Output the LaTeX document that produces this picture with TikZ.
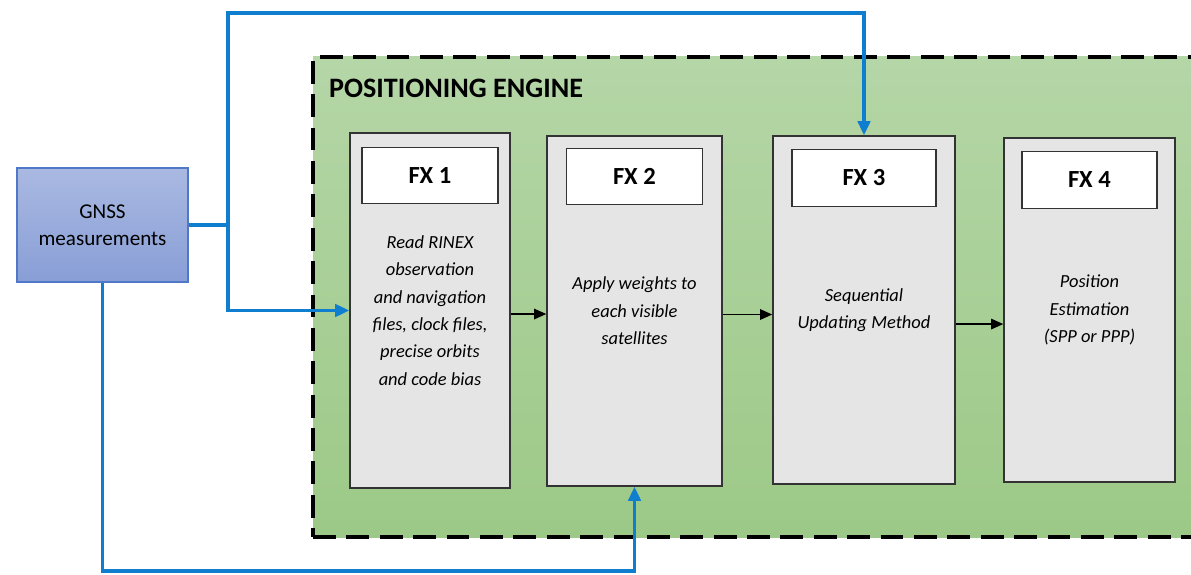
\documentclass[tikz,border=0pt]{standalone}
\usepackage{fontspec}
\setmainfont{Carlito}
\usetikzlibrary{positioning,arrows.meta}
\definecolor{feedblue}{RGB}{16,126,206}
\definecolor{gnsstop}{RGB}{170,185,226}
\definecolor{gnssbot}{RGB}{136,158,214}
\definecolor{gnssline}{RGB}{80,120,200}
\definecolor{enginetop}{RGB}{181,214,167}
\definecolor{enginebot}{RGB}{156,201,135}
\tikzset{
  fxbox/.style={draw=black!80, line width=0.8pt, fill=gray!20, align=center, inner sep=0pt,
    font=\itshape\fontsize{10.5}{15.6}\selectfont},
  fxlabel/.style={draw=black!80, line width=0.8pt, fill=white, outer sep=0pt,
    font=\bfseries\fontsize{14}{16}\selectfont},
  feed/.style={draw=feedblue, line width=2.1pt, -{Triangle[length=8pt,width=7pt]}},
  flow/.style={draw=black, line width=0.9pt, -{Triangle[length=7pt,width=6pt]}},
}
\begin{document}
\begin{tikzpicture}
  \useasboundingbox (0,0) rectangle (23.82,11.48);
  % engine frame
  \node[draw=black, line width=2.2pt, dash pattern=on 13pt off 6pt, top color=enginetop, bottom color=enginebot,
    minimum width=18.2cm, minimum height=9.6cm] (engine) at (15.36,5.54) {};
  \node[anchor=west, font=\bfseries\fontsize{16}{18}\selectfont] (title) at (6.46,9.72) {POSITIONING ENGINE};

  % input
  \node[draw=gnssline, line width=0.8pt, top color=gnsstop, bottom color=gnssbot, align=center,
    minimum width=3.42cm, minimum height=2.28cm, font=\fontsize{12}{15.3}\selectfont] (gnss) at (2.05,6.98) {GNSS\\measurements};

  % functions
  \node[fxbox, minimum width=3.2cm, minimum height=7.1cm] (fx1) at (8.6,5.27)
    {Read RINEX\\observation\\and navigation\\files, clock files,\\precise orbits\\and code bias};
  \node[fxbox, minimum width=3.5cm, minimum height=7.0cm] (fx2) at (12.69,5.26)
    {Apply weights to\\each visible\\satellites};
  \node[fxbox, minimum width=3.64cm, minimum height=6.96cm] (fx3) at (17.28,5.28)
    {Sequential\\Updating Method};
  \node[fxbox, minimum width=3.42cm, minimum height=6.88cm] (fx4) at (21.79,5.28)
    {Position\\Estimation\\(SPP or PPP)};

  \node[fxlabel, minimum width=2.72cm, minimum height=1.12cm, below=0.3cm of fx1.north] (fx1lbl) {FX 1};
  \node[fxlabel, minimum width=2.72cm, minimum height=1.12cm, below=0.26cm of fx2.north] (fx2lbl) {FX 2};
  \node[fxlabel, minimum width=2.88cm, minimum height=1.14cm, below=0.28cm of fx3.north] (fx3lbl) {FX 3};
  \node[fxlabel, minimum width=2.7cm, minimum height=1.14cm, below=0.28cm of fx4.north] (fx4lbl) {FX 4};

  \draw[flow] ([yshift=-2pt]fx1.east) -- ([yshift=-2pt]fx1.east -| fx2.west);
  \draw[flow] ([yshift=-2pt]fx2.east) -- ([yshift=-2pt]fx2.east -| fx3.west);
  \draw[flow] ([yshift=-8pt]fx3.east) -- ([yshift=-8pt]fx3.east -| fx4.west);

  % measurement feeds
  \coordinate (jn) at ([xshift=0.78cm]gnss.east);
  \coordinate (topy) at (0,11.22);
  \coordinate (boty) at (0,0.06);
  \draw[feed, -] (gnss.east) -- (jn);
  \draw[feed] (jn) |- (fx3.north |- topy) -- (fx3.north);
  \draw[feed] (jn) |- (fx1.west);
  \draw[feed] (gnss.south) |- (fx2.south |- boty) -- (fx2.south);
\end{tikzpicture}
\end{document}
